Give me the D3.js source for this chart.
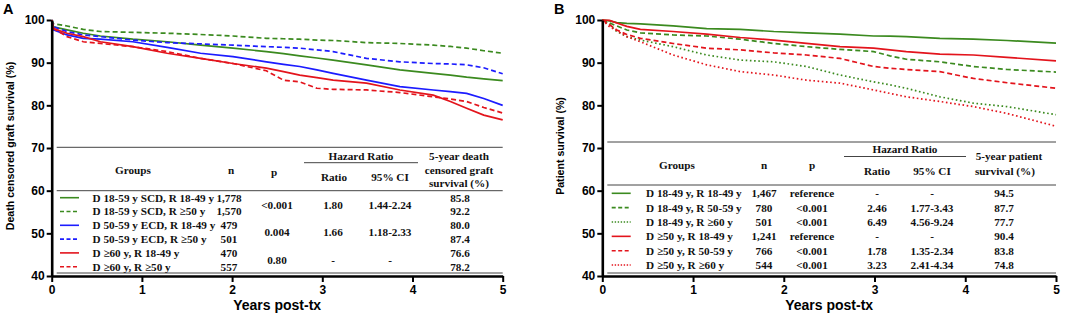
<!DOCTYPE html>
<html>
<head>
<meta charset="utf-8">
<script src="https://cdn.jsdelivr.net/npm/d3@7"></script>
<style>
  body { margin: 0; background: #fff; }
  svg { display: block; }
  .tick text { font-family: "Liberation Sans", Arial, sans-serif; font-weight: bold; font-size: 12px; fill: #000; }
  .tbl { font-family: "Liberation Serif", "Times New Roman", serif; font-weight: bold; font-size: 11.2px; fill: #111; }
</style>
</head>
<body>
<svg id="chart"></svg>
<script>
// ---- panel A data: death censored graft survival ----
const timeA = [0, 0.02, 0.17, 0.35, 0.54, 0.9, 1.28, 1.65, 2.01, 2.38, 2.57, 2.75, 2.94, 3.12, 3.49, 3.86, 4.23, 4.42, 4.6, 4.79, 5];
const scdYoung = [100, 98.4, 97.7, 96.9, 96.25, 95.5, 94.9, 94.1, 93.4, 92.6, 92.1, 91.6, 91.1, 90.6, 89.5, 88.3, 87.5, 87.1, 86.6, 86.2, 85.8];
const scdOld   = [100, 99.1, 98.6, 97.8, 97.3, 97.1, 96.9, 96.6, 96.25, 95.7, 95.6, 95.5, 95.3, 95.2, 94.7, 94.5, 94.1, 93.8, 93.4, 92.8, 92.2];
const ecdYoung = [100, 97.7, 96.5, 95.7, 95.5, 94.9, 93.6, 92.2, 91.4, 90.2, 89.6, 89.1, 88.3, 87.5, 85.9, 84.4, 83.6, 83.2, 82.8, 81.6, 80.0];
const ecdOld   = [100, 98.4, 97.3, 96.5, 96.1, 95.3, 94.7, 94.4, 94.1, 93.75, 93.6, 93.4, 93.0, 92.6, 91.0, 90.2, 89.8, 89.7, 89.5, 88.8, 87.4];
const d60Young = [100, 98.0, 96.9, 96.1, 94.9, 93.75, 92.2, 91.0, 89.8, 88.7, 87.9, 87.1, 86.5, 85.9, 85.2, 83.6, 82.4, 80.9, 79.3, 77.7, 76.6];
const d60Old   = [100, 98.0, 96.1, 94.9, 94.5, 93.75, 92.6, 91.0, 89.8, 88.1, 85.9, 85.5, 84.0, 83.75, 83.6, 83.0, 82.0, 81.5, 80.9, 79.5, 78.2];

const groupsA = ['D 18-59 y SCD, R 18-49 y', 'D 18-59 y SCD, R \u226550 y', 'D 50-59 y ECD, R 18-49 y', 'D 50-59 y ECD, R \u226550 y', 'D \u226560 y, R 18-49 y', 'D \u226560 y, R \u226550 y'];
const nA = ['1,778', '1,570', '479', '501', '470', '557'];
const pA = ['<0.001', '0.004', '0.80'];
const ratioA = ['1.80', '1.66', '-'];
const ciA = ['1.44-2.24', '1.18-2.33', '-'];
const survA = ['85.8', '92.2', '80.0', '87.4', '76.6', '78.2'];

// ---- panel B data: patient survival ----
const timeB = [0, 0.08, 0.16, 0.27, 0.42, 0.78, 1.15, 1.52, 1.89, 2.25, 2.62, 2.99, 3.17, 3.35, 3.72, 4.09, 4.46, 5];
const y49r49 = [100, 99.8, 99.4, 99.2, 99.1, 98.6, 98.0, 97.8, 97.3, 97.0, 96.7, 96.25, 96.2, 96.1, 95.7, 95.5, 95.2, 94.6];
const y49r59 = [100, 99.3, 98.6, 97.66, 97.0, 96.5, 96.25, 95.5, 94.5, 93.75, 93.1, 92.6, 91.6, 90.8, 90.2, 89.1, 88.4, 87.8];
const y49r60 = [100, 98.9, 97.3, 96.1, 95.3, 93.75, 91.8, 90.6, 90.2, 89.1, 87.1, 85.5, 84.8, 84.0, 82.0, 80.5, 79.7, 77.8];
const o50r49 = [100, 99.9, 99.3, 98.5, 97.8, 97.3, 96.7, 95.9, 95.3, 94.5, 93.75, 93.4, 93.0, 92.6, 92.0, 91.8, 91.25, 90.4];
const o50r59 = [100, 98.9, 97.66, 96.6, 95.7, 94.5, 93.4, 93.0, 92.3, 91.8, 91.0, 89.1, 88.7, 88.4, 87.9, 86.3, 85.3, 84.0];
const o50r60 = [100, 98.4, 97.5, 96.1, 94.9, 91.8, 89.5, 87.9, 87.1, 85.9, 85.2, 83.6, 82.8, 82.0, 80.9, 79.7, 78.1, 75.1];

const groupsB = ['D 18-49 y, R 18-49 y', 'D 18-49 y, R 50-59 y', 'D 18-49 y, R \u226560 y', 'D \u226550 y, R 18-49 y', 'D \u226550 y, R 50-59 y', 'D \u226550 y, R \u226560 y'];
const nB = ['1,467', '780', '501', '1,241', '766', '544'];
const pB = ['reference', '<0.001', '<0.001', 'reference', '<0.001', '<0.001'];
const ratioB = ['-', '2.46', '6.49', '-', '1.78', '3.23'];
const ciB = ['-', '1.77-3.43', '4.56-9.24', '-', '1.35-2.34', '2.41-4.34'];
const survB = ['94.5', '87.7', '77.7', '90.4', '83.8', '74.8'];

const yTicks = [40, 50, 60, 70, 80, 90, 100];
const xTicks = [0, 1, 2, 3, 4, 5];

const GREEN = '#3b8a1f', BLUE = '#1c1cff', RED = '#e3141c';
const DASH = '5,3', DOT = '1.6,2.6';

const svg = d3.select('#chart').attr('width', 1084).attr('height', 318);

function drawPanel(p) {
  const g = svg.append('g');
  const x = d3.scaleLinear().domain([0, 5]).range([p.x0, p.x1]);
  const y = d3.scaleLinear().domain([40, 100]).range([276, 20]);

  // panel letter
  g.append('text').attr('x', p.letterX).attr('y', 14)
    .attr('font-family', 'Liberation Sans, Arial, sans-serif').attr('font-weight', 'bold')
    .attr('font-size', 14.5).text(p.letter);

  // y label
  g.append('text')
    .attr('transform', `translate(${p.ylabX},146) rotate(-90)`)
    .attr('text-anchor', 'middle')
    .attr('font-family', 'Liberation Sans, Arial, sans-serif').attr('font-weight', 'bold')
    .attr('font-size', 10.6).text(p.ylab);

  // x label
  g.append('text').attr('x', (p.x0 + p.x1) / 2).attr('y', 310)
    .attr('text-anchor', 'middle')
    .attr('font-family', 'Liberation Sans, Arial, sans-serif').attr('font-weight', 'bold')
    .attr('font-size', 14).text('Years post-tx');

  // table rules
  const rule = (ry, xa, xb) => g.append('line').attr('x1', xa).attr('x2', xb)
    .attr('y1', ry).attr('y2', ry).attr('stroke', '#444').attr('stroke-width', 1);
  rule(p.tTop, p.x0 + 5, p.x1);
  rule(p.hrLine, p.hrX0, p.hrX1);
  rule(p.tHead, p.x0 + 5, p.x1);
  rule(273, p.x0 + 5, p.x1);

  const txt = (tx, ty, s, anchor) => g.append('text').attr('class', 'tbl')
    .attr('x', tx).attr('y', ty).attr('dy', '0.35em')
    .attr('text-anchor', anchor || 'middle').text(s);

  p.header.forEach(h => txt(h[0], h[1], h[2]));

  // rows
  p.series.forEach((s, i) => {
    const ry = p.rowY(i);
    g.append('line').attr('x1', p.legX0).attr('x2', p.legX0 + 19)
      .attr('y1', ry).attr('y2', ry).attr('stroke', s.color).attr('stroke-width', 1.6)
      .attr('stroke-dasharray', s.dash === DASH ? '4,2.5' : (s.dash === DOT ? '1.4,1.6' : null));
    txt(p.legText, ry, p.groups[i], 'start');
    txt(p.cols.n, ry, p.n[i]);
    txt(p.cols.surv, ry, p.surv[i]);
  });
  p.pairs.forEach(pr => {
    txt(p.cols.p, pr.y, pr.p);
    txt(p.cols.ratio, pr.y, pr.ratio);
    txt(p.cols.ci, pr.y, pr.ci);
  });

  // curves
  const line = d3.line().x(d => x(d[0])).y(d => y(d[1]));
  p.series.forEach(s => {
    g.append('path').datum(p.time.map((t, k) => [t, s.values[k]]))
      .attr('d', line).attr('fill', 'none').attr('stroke', s.color)
      .attr('stroke-width', 1.7).attr('stroke-dasharray', s.dash);
  });

  // axes
  const ya = g.append('g').attr('transform', `translate(${p.x0},0)`)
    .call(d3.axisLeft(y).tickValues(yTicks).tickSize(5).tickSizeOuter(0).tickPadding(2));
  const xa = g.append('g').attr('transform', 'translate(0,276)')
    .call(d3.axisBottom(x).tickValues(xTicks).tickFormat(d3.format('d')).tickSize(6).tickSizeOuter(0).tickPadding(3));
  [ya, xa].forEach(a => {
    a.select('.domain').attr('stroke', '#000').attr('stroke-width', 2.6);
    a.selectAll('.tick line').attr('stroke', '#000').attr('stroke-width', 2);
  });
}

// panel A
drawPanel({
  letter: 'A', letterX: 3, ylab: 'Death censored graft survival (%)', ylabX: 14,
  x0: 51.7, x1: 502.7, time: timeA,
  series: [
    { values: scdYoung, color: GREEN, dash: null },
    { values: scdOld, color: GREEN, dash: DASH },
    { values: ecdYoung, color: BLUE, dash: null },
    { values: ecdOld, color: BLUE, dash: DASH },
    { values: d60Young, color: RED, dash: null },
    { values: d60Old, color: RED, dash: DASH }
  ],
  groups: groupsA, n: nA, surv: survA,
  tTop: 147.3, hrLine: 162.7, hrX0: 304, hrX1: 418, tHead: 190.7,
  header: [
    [361, 156.5, 'Hazard Ratio'], [459, 156.5, '5-year death'], [459, 170, 'censored graft'],
    [459, 183.5, 'survival (%)'], [133, 170, 'Groups'], [231, 170, 'n'], [274, 172, 'p'],
    [334, 177, 'Ratio'], [390, 177, '95% CI']
  ],
  rowY: i => 197.7 + i * 13.8,
  legX0: 60, legText: 92.5,
  cols: { n: 229, p: 277, ratio: 333, ci: 390, surv: 460 },
  pairs: pA.map((v, j) => ({ y: 204.6 + j * 27.6, p: v, ratio: ratioA[j], ci: ciA[j] }))
});

// panel B
drawPanel({
  letter: 'B', letterX: 554, ylab: 'Patient survival (%)', ylabX: 564,
  x0: 602.3, x1: 1056, time: timeB,
  series: [
    { values: y49r49, color: GREEN, dash: null },
    { values: y49r59, color: GREEN, dash: DASH },
    { values: y49r60, color: GREEN, dash: DOT },
    { values: o50r49, color: RED, dash: null },
    { values: o50r59, color: RED, dash: DASH },
    { values: o50r60, color: RED, dash: DOT }
  ],
  groups: groupsB, n: nB, surv: survB,
  tTop: 142, hrLine: 156.5, hrX0: 844, hrX1: 966, tHead: 185,
  header: [
    [905, 149, 'Hazard Ratio'], [1009, 156, '5-year patient'], [1005, 171.5, 'survival (%)'],
    [677, 165, 'Groups'], [764, 165, 'n'], [812, 165, 'p'],
    [877, 171, 'Ratio'], [932, 171, '95% CI']
  ],
  rowY: i => 193.3 + i * 14.35,
  legX0: 611.7, legText: 646,
  cols: { n: 764, p: 812, ratio: 877, ci: 932, surv: 1004 },
  pairs: pB.map((v, j) => ({ y: 193.3 + j * 14.35, p: v, ratio: ratioB[j], ci: ciB[j] }))
});
</script>
</body>
</html>
